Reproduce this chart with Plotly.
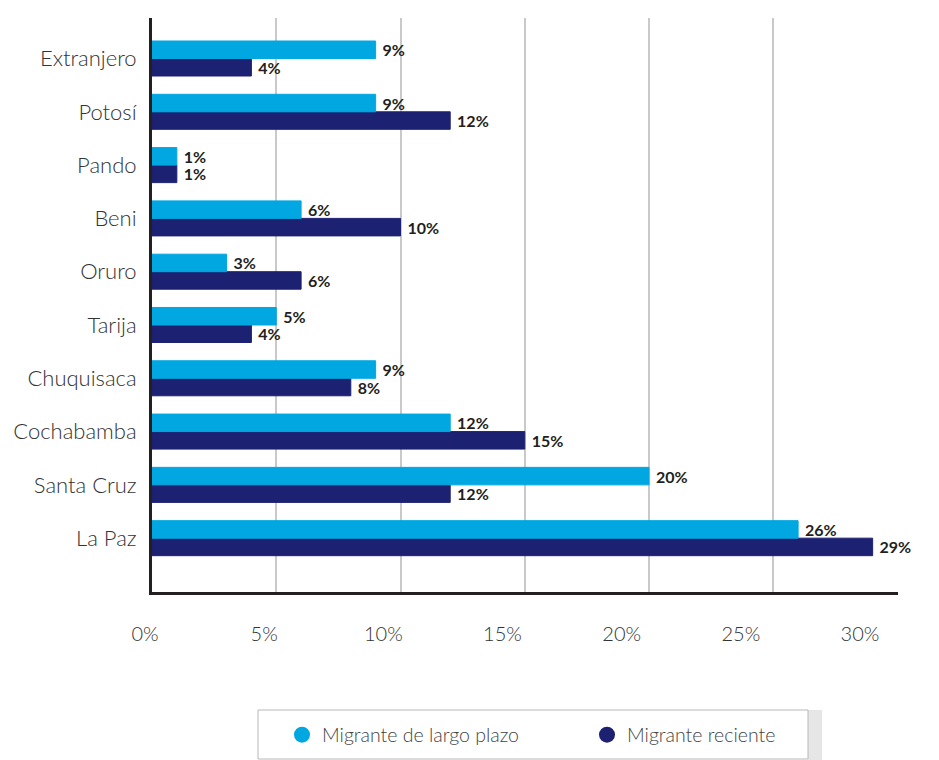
import plotly.graph_objects as go

# Departamentos (de abajo hacia arriba en el eje)
categorias = ["La Paz", "Santa Cruz", "Cochabamba", "Chuquisaca", "Tarija",
              "Oruro", "Beni", "Pando", "Potosí", "Extranjero"]
largo_plazo = [26, 20, 12, 9, 5, 3, 6, 1, 9, 9]
reciente = [29, 12, 15, 8, 4, 6, 10, 1, 12, 4]

tick_vals = [0, 5, 10, 15, 20, 25, 30]
tick_text = ["0%", "5%", "10%", "15%", "20%", "25%", "30%"]

CELESTE = "#00a7e1"
AZUL = "#1d2172"
TEXTO = "#333333"
FUENTE = "Lato"

W, H = 939, 760
ML, MR, MT, MB = 135, 30, 18, 168
PW = W - ML - MR
PH = H - MT - MB


def fx(px):
    return (px - ML) / PW


def fy(py):
    return (H - MB - py) / PH


valor_font = dict(family=FUENTE, size=16, color="#231f20", weight="bold")

fig = go.Figure()

# Barras: la serie reciente va primero para quedar debajo en cada par
fig.add_trace(go.Bar(
    y=categorias, x=reciente, orientation="h",
    marker=dict(color=AZUL, line=dict(color=AZUL, width=1)),
    text=reciente, texttemplate="\u00a0%{x}%", textposition="outside",
    constraintext="none",
    textfont=valor_font, cliponaxis=False, showlegend=False,
    name="Migrante reciente",
))
fig.add_trace(go.Bar(
    y=categorias, x=largo_plazo, orientation="h",
    marker=dict(color=CELESTE, line=dict(color=CELESTE, width=1)),
    text=largo_plazo, texttemplate="\u00a0%{x}%", textposition="outside",
    constraintext="none",
    textfont=valor_font, cliponaxis=False, showlegend=False,
    name="Migrante de largo plazo",
))

# Entradas de leyenda con símbolo circular
fig.add_trace(go.Scatter(
    x=[None], y=[None], mode="markers", name="Migrante de largo plazo",
    marker=dict(symbol="circle", size=18, color=CELESTE),
))
fig.add_trace(go.Scatter(
    x=[None], y=[None], mode="markers", name="Migrante reciente",
    marker=dict(symbol="circle", size=18, color=AZUL),
))

# Eje auxiliar que sólo lleva las etiquetas de porcentaje
label_x0, label_step = 145, (860 - 145) / 30
fig.add_trace(go.Scatter(
    x=[None], y=[None], xaxis="x2", yaxis="y2", mode="markers",
    showlegend=False, hoverinfo="skip",
))

fig.update_layout(
    width=W, height=H,
    margin=dict(l=ML, r=MR, t=MT, b=MB, pad=0, autoexpand=False),
    paper_bgcolor="white", plot_bgcolor="rgba(0,0,0,0)",
    barmode="group", bargap=0.343, bargroupgap=0,
    font=dict(family=FUENTE, color=TEXTO),
    xaxis=dict(
        domain=[fx(152), fx(897.5)], range=[0, 30], anchor="y",
        tickvals=tick_vals[1:], showticklabels=False,
        showgrid=True, gridcolor="#c9c9c9", gridwidth=2,
        zeroline=False, showline=True, linecolor="#231f20", linewidth=3,
        fixedrange=True,
    ),
    xaxis2=dict(
        domain=[0, 1], anchor="y2",
        range=[(ML - label_x0) / label_step, (ML + PW - label_x0) / label_step],
        tickvals=tick_vals, ticktext=tick_text,
        ticks="outside", ticklen=24, tickcolor="rgba(0,0,0,0)",
        tickfont=dict(family=FUENTE, size=20, color=TEXTO, weight=300),
        showgrid=False, zeroline=False, showline=False,
    ),
    yaxis2=dict(
        domain=[0, 1], anchor="x2", range=[0, 1], visible=False,
    ),
    yaxis=dict(
        anchor="x",
        categoryorder="array", categoryarray=categorias,
        range=[-1.01, 9.76],
        ticks="outside", ticklen=8, tickcolor="rgba(0,0,0,0)",
        tickfont=dict(family=FUENTE, size=22, color=TEXTO, weight=300),
        showgrid=False, zeroline=False,
        showline=True, linecolor="#231f20", linewidth=3,
    ),
    legend=dict(
        orientation="h", x=fx(282), xanchor="left",
        y=fy(735), yanchor="middle",
        bgcolor="rgba(0,0,0,0)", borderwidth=0,
        font=dict(family=FUENTE, size=19.5, color="#444444", weight=300),
        entrywidth=260, itemsizing="trace", traceorder="normal",
    ),
    shapes=[
        dict(type="rect", xref="paper", yref="paper",
             x0=fx(808), x1=fx(822), y0=fy(760), y1=fy(710),
             fillcolor="#e6e6e6", line=dict(width=0)),
        dict(type="rect", xref="paper", yref="paper",
             x0=fx(258), x1=fx(808), y0=fy(759), y1=fy(710),
             fillcolor="white", line=dict(color="#b8b8b8", width=1)),
    ],
)

fig.write_html("out.html")
